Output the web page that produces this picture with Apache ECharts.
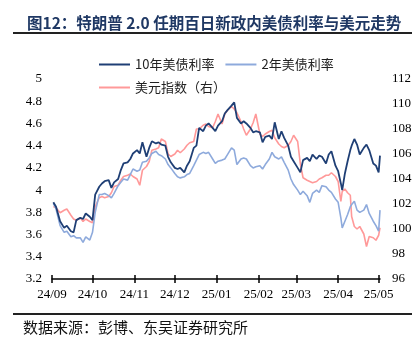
<!DOCTYPE html>
<html lang="zh">
<head>
    <meta charset="UTF-8">
    <title>美债利率与美元走势</title>
    <script src="https://cdn.jsdelivr.net/npm/echarts@6/dist/echarts.min.js"></script>
    <style>
        html, body { margin: 0; padding: 0; background: #fff; }
        #main { width: 420px; height: 353px; }
    </style>
</head>
<body>
<div id="main"></div>
<script>
    // 日期: 距 2024-09-01 的天数
    var days = [1, 3, 6, 9, 11, 14, 16, 18, 21, 23, 25, 28, 30, 32, 35, 37, 39, 42, 44, 46,
        49, 51, 53, 56, 58, 60, 63, 65, 67, 70, 72, 74, 77, 79, 81, 84, 86, 88, 91, 93,
        95, 98, 100, 102, 105, 107, 109, 112, 114, 116, 119, 121, 123, 126, 128, 130, 133, 135, 137, 140,
        142, 144, 147, 149, 151, 154, 156, 158, 161, 163, 165, 168, 170, 172, 175, 177, 179, 182, 184, 186,
        189, 191, 193, 196, 198, 200, 203, 205, 207, 210, 212, 214, 215, 217, 219, 221, 222, 224, 226, 228,
        231, 233, 235, 238, 240, 242, 243];
    // 10年美债利率
    var yield10y = [3.89, 3.85, 3.72, 3.66, 3.68, 3.63, 3.62, 3.73, 3.75, 3.74, 3.79, 3.76, 3.73, 3.96, 4.03, 4.06, 4.08, 4.09, 4.02, 4.07,
        4.10, 4.18, 4.24, 4.25, 4.28, 4.33, 4.36, 4.33, 4.43, 4.30, 4.38, 4.44, 4.42, 4.43, 4.41, 4.40, 4.30, 4.25, 4.20, 4.19,
        4.20, 4.16, 4.22, 4.26, 4.38, 4.40, 4.56, 4.53, 4.58, 4.60, 4.56, 4.53, 4.58, 4.62, 4.69, 4.72, 4.76, 4.79, 4.65, 4.60,
        4.62, 4.60, 4.56, 4.52, 4.53, 4.52, 4.43, 4.48, 4.49, 4.46, 4.61, 4.46, 4.53, 4.47, 4.40, 4.30, 4.26, 4.20, 4.16, 4.27,
        4.29, 4.26, 4.32, 4.28, 4.31, 4.30, 4.24, 4.32, 4.35, 4.22, 4.17, 4.06, 4.00, 4.15, 4.26, 4.36, 4.40, 4.46, 4.41, 4.32,
        4.38, 4.41, 4.36, 4.24, 4.22, 4.16, 4.31];
    // 2年美债利率
    var yield2y = [3.88, 3.83, 3.68, 3.62, 3.63, 3.58, 3.59, 3.57, 3.57, 3.53, 3.58, 3.55, 3.62, 3.80, 3.96, 3.96, 3.97, 3.95, 3.93, 3.97,
        4.04, 4.07, 4.10, 4.09, 4.14, 4.19, 4.17, 4.18, 4.25, 4.26, 4.29, 4.33, 4.35, 4.32, 4.31, 4.28, 4.23, 4.20, 4.15, 4.12,
        4.11, 4.12, 4.14, 4.15, 4.22, 4.27, 4.32, 4.34, 4.33, 4.34, 4.28, 4.24, 4.26, 4.27, 4.28, 4.32, 4.38, 4.36, 4.23, 4.28,
        4.29, 4.28, 4.22, 4.20, 4.21, 4.22, 4.19, 4.23, 4.28, 4.34, 4.30, 4.28, 4.30, 4.25, 4.18, 4.10, 4.05, 4.00, 3.96, 3.99,
        3.95, 3.89, 3.97, 4.00, 3.98, 4.04, 4.03, 4.00, 3.98, 3.92, 3.89, 3.75, 3.66, 3.72, 3.78, 3.85, 3.87, 3.90, 3.82, 3.80,
        3.82, 3.87, 3.79, 3.72, 3.68, 3.63, 3.82];
    // 美元指数（右轴）
    var dxy = [101.8, 101.7, 101.3, 101.5, 101.6, 101.1, 100.8, 100.7, 100.9, 100.6, 100.8, 100.6, 100.5, 101.8, 102.5, 102.6, 102.5, 102.6, 102.9, 103.4,
        103.5, 103.9, 104.2, 104.3, 104.4, 104.2, 104.0, 103.5, 104.7, 105.0, 105.4, 106.3, 106.4, 106.5, 107.2, 107.0, 106.0, 105.8, 106.0, 106.3,
        106.1, 106.4, 106.7, 106.9, 107.0, 108.0, 108.0, 108.3, 108.4, 108.2, 108.1, 108.6, 109.2, 108.4, 109.2, 109.5, 109.8, 109.6, 109.3, 108.6,
        108.0, 107.5, 108.0, 108.5, 109.2, 107.6, 107.4, 107.6, 107.8, 107.9, 107.3, 106.8, 106.6, 106.5, 106.7, 107.0, 107.5, 107.0, 105.2, 104.1,
        103.9, 103.8, 103.7, 103.8, 104.0, 104.1, 104.3, 104.3, 104.5, 104.2, 103.8, 102.2, 103.0, 103.2, 102.9, 102.7, 101.0, 100.2, 100.0, 100.2,
        99.6, 98.6, 99.4, 99.3, 99.1, 99.5, 100.1];

    // 月份刻度
    var monthDays = [0, 30, 61, 91, 122, 153, 181, 212, 242];
    var monthLabels = ['24/09', '24/10', '24/11', '24/12', '25/01', '25/02', '25/03', '25/04', '25/05'];

    function pairs(arr) {
        return days.map(function (d, i) { return [d, arr[i]]; });
    }

    var serifFont = '"Liberation Serif", "Noto Sans CJK SC", serif';
    var cjkFont = '"Noto Sans CJK SC", sans-serif';

    var myChart = echarts.init(document.getElementById('main'));
    var option = {
        animation: false,
        backgroundColor: '#fff',
        title: {
            text: '图12：特朗普 2.0 任期百日新政内美债利率与美元走势',
            left: 22,
            top: 10,
            textStyle: { fontFamily: cjkFont, fontSize: 15.5, fontWeight: 'bold', color: '#1f3864' }
        },
        graphic: [
            { type: 'line', shape: { x1: 13, y1: 33, x2: 412, y2: 33 }, style: { stroke: '#222', lineWidth: 2 } },
            { type: 'line', shape: { x1: 13, y1: 314, x2: 412, y2: 314 }, style: { stroke: '#222', lineWidth: 2 } },
            {
                type: 'text', left: 23, top: 320,
                style: { text: '数据来源：彭博、东吴证券研究所', font: '15px ' + cjkFont, fill: '#111' }
            }
        ],
        legend: [
            {
                data: ['10年美债利率', '2年美债利率'],
                left: 94, top: 53, icon: 'rect', itemWidth: 31, itemHeight: 2, itemGap: 11,
                textStyle: { fontFamily: cjkFont, fontSize: 13, color: '#222' }
            },
            {
                data: ['美元指数（右）'],
                left: 94, top: 76, icon: 'rect', itemWidth: 31, itemHeight: 2,
                textStyle: { fontFamily: cjkFont, fontSize: 13, color: '#222' }
            }
        ],
        grid: { left: 52, right: 40, top: 79, bottom: 74, containLabel: false },
        xAxis: [
            {
                type: 'value', min: 0, max: 243,
                axisLine: { show: true, lineStyle: { color: '#000', width: 1.5 } },
                axisTick: { show: true, length: 4, customValues: monthDays, lineStyle: { color: '#000', width: 1.5 } },
                axisLabel: {
                    customValues: monthDays, margin: 9, color: '#000', fontFamily: serifFont, fontSize: 13,
                    formatter: function (v) { return monthLabels[monthDays.indexOf(v)]; }
                },
                splitLine: { show: false }
            },
            {
                type: 'value', min: 0, max: 243, position: 'bottom',
                axisLine: { show: false },
                axisTick: { show: true, inside: true, length: 4, customValues: monthDays, lineStyle: { color: '#000', width: 1.5 } },
                axisLabel: { show: false },
                splitLine: { show: false }
            }
        ],
        yAxis: [
            {
                type: 'value', min: 3.2, max: 5, interval: 0.2,
                axisLine: { show: false }, axisTick: { show: false }, splitLine: { show: false },
                axisLabel: { margin: 10, color: '#000', fontFamily: serifFont, fontSize: 13 }
            },
            {
                type: 'value', min: 96, max: 112, interval: 2, position: 'right',
                axisLine: { show: false }, axisTick: { show: false }, splitLine: { show: false },
                axisLabel: { margin: 12, color: '#000', fontFamily: serifFont, fontSize: 13 }
            }
        ],
        series: [
            {
                name: '美元指数（右）', type: 'line', yAxisIndex: 1, symbol: 'none',
                lineStyle: { color: '#ff9999', width: 1.6 }, itemStyle: { color: '#ff9999' },
                data: pairs(dxy)
            },
            {
                name: '2年美债利率', type: 'line', symbol: 'none',
                lineStyle: { color: '#8eaadc', width: 1.6 }, itemStyle: { color: '#8eaadc' },
                data: pairs(yield2y)
            },
            {
                name: '10年美债利率', type: 'line', symbol: 'none',
                lineStyle: { color: '#1f3f75', width: 1.8 }, itemStyle: { color: '#1f3f75' },
                data: pairs(yield10y)
            }
        ]
    };
    myChart.setOption(option);
</script>
</body>
</html>
